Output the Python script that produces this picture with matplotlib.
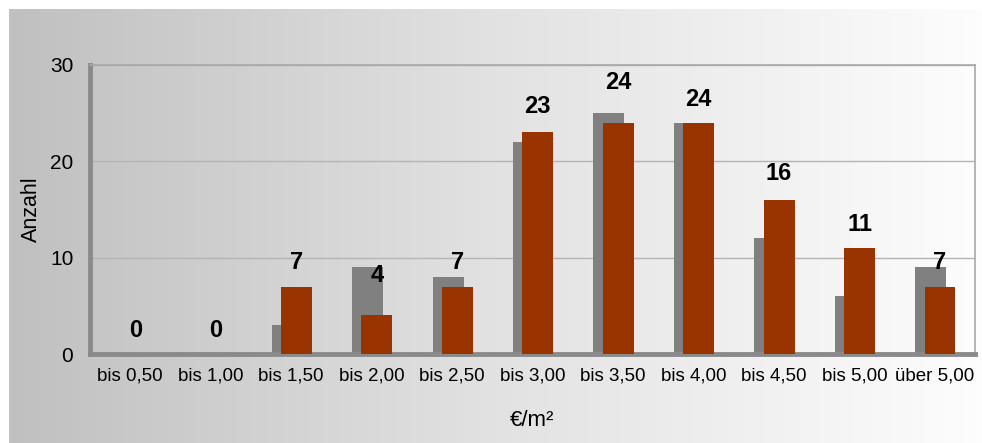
import numpy as np
import matplotlib.pyplot as plt

plt.rcParams["font.family"] = ["Liberation Sans", "DejaVu Sans"]

# data
categories = ["bis 0,50", "bis 1,00", "bis 1,50", "bis 2,00", "bis 2,50", "bis 3,00",
              "bis 3,50", "bis 4,00", "bis 4,50", "bis 5,00", "über 5,00"]
previous = [0, 0, 3, 9, 8, 22, 25, 24, 12, 6, 9]
current = [0, 0, 7, 4, 7, 23, 24, 24, 16, 11, 7]

# label distance above the red bar (points), as in the source
label_offsets = [17, 17, 17, 29, 17, 19, 29, 17, 19, 17, 17]

fig = plt.figure(figsize=(9.82, 4.43), dpi=100)

# gradient background
bg = fig.add_axes([9 / 982, 0, 1 - 9 / 982, 1 - 9 / 443], zorder=0)
grad = np.linspace(0, 1, 256).reshape(1, -1)
bg.imshow(grad, aspect="auto", cmap=plt.matplotlib.colors.LinearSegmentedColormap.from_list(
    "bg", ["#c0c0c0", "#e2e2e2", "#fdfdfd"]), extent=[0, 1, 0, 1])
bg.axis("off")

ax = fig.add_axes([90 / 982, 1 - 354 / 443, 885 / 982, 289 / 443], zorder=1)
ax.patch.set_alpha(0)

x = np.arange(len(categories))
w = 0.385
ax.bar(x - 0.05, previous, width=w, color="#808080", zorder=2)
bars = ax.bar(x + 0.065, current, width=w, color="#993300", zorder=3)

for xi, v, off in zip(x, current, label_offsets):
    ax.annotate(str(v), (xi + 0.065, v), xytext=(0, off), textcoords="offset points",
                ha="center", va="center", fontsize=17, fontweight="bold", zorder=4)

ax.set_xlim(-0.5, len(categories) - 0.5)
ax.set_ylim(0, 30)
ax.set_yticks([0, 10, 20, 30])
ax.set_xticks(x)
ax.set_xticklabels(categories)
ax.tick_params(axis="both", length=0, colors="black")
ax.tick_params(axis="x", pad=10, labelsize=13.5)
ax.tick_params(axis="y", pad=12, labelsize=15)
ax.yaxis.grid(True, color="#b4b4b4", linewidth=1, zorder=1)

for side in ["top", "right"]:
    ax.spines[side].set_color("#a8a8a8")
    ax.spines[side].set_linewidth(1.2)
for side in ["left", "bottom"]:
    ax.spines[side].set_color("#8a8a8a")
    ax.spines[side].set_linewidth(3.5)

ax.set_ylabel("Anzahl", fontsize=15.5, labelpad=6)
ax.set_xlabel("€/m²", fontsize=16, labelpad=18)

fig.savefig("out.png", dpi=100)
